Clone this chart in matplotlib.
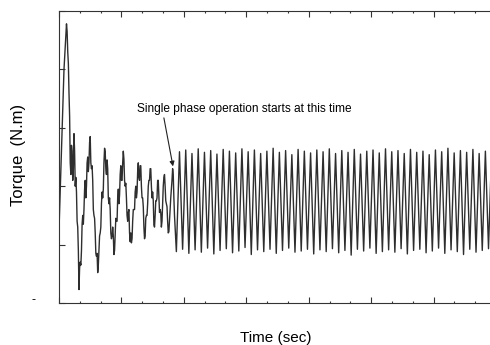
import numpy as np
import matplotlib
matplotlib.use("Agg")
import matplotlib.pyplot as plt
from matplotlib.ticker import MultipleLocator, NullFormatter

# start-up transient (three phase), sampled every 1 ms
t_step = 0.001
torque_start = [
    2.5, 6, 9, 13, 17, 20.5, 24, 27, 30, 32,
    34, 36, 37.8, 36.5, 33, 31, 26, 22, 14, 12,
    17, 16, 11, 13, 19, 16, 10, 11.5, 9, 4,
    3, -1, -7.7, -4, -3, -3.5, -1, 3.5, 5, 3.5,
    6, 9.5, 11, 8, 10, 14, 15, 12.5, 14, 17.5,
    18.5, 14, 13, 13.5, 11, 6, 5, 4.5, 2, -1.5,
    -2, -1.5, -4.8, -3.5, -1, 1.5, 2, 3, 7, 9,
    8, 9.5, 14, 16.5, 15.9, 13, 12, 14.5, 13, 8,
    7, 8, 6, 2, 1, 1.5, 3, 1.5, -1.7, -1,
    2, 4.5, 4, 4, 8, 9.5, 7, 8.5, 12, 13.5,
    11, 11, 14, 16, 14.6, 11, 10, 10.5, 8, 5,
    4, 5.5, 6, 2, 0.5, 2, 0.3, 1, 4, 6,
    6, 6, 9, 10, 8, 9, 12.5, 14, 11.5, 11,
    13.5, 13.5, 10, 8, 8, 6.5, 3, 1, 1.5, 4.5,
    5, 5, 7, 10, 11, 11, 13, 13, 10, 8,
    9, 7.5, 3.4, 3, 5, 7.5, 7.5, 8, 11, 11,
    8, 5.5, 6, 5.5, 3, 4, 7, 10, 11.5, 12,
    10, 7.5, 7, 6.5, 4, 2, 2.2, 4, 6, 8,
    9.5, 11, 13, 12, 8, 5, 3,
]

# single phase operation: 100 Hz pulsation, one trough and one peak per cycle
t_single = 0.188
half_period = 0.005
troughs = [
    -1.2, -0.8, -1.5, -0.9, -1.3, -0.6, -1.6, -1.0, -0.7, -1.4,
    -1.1, -0.5, -1.7, -0.9, -1.2, -0.8, -1.5, -1.0, -0.6, -1.3,
    -1.1, -0.8, -1.6, -0.9, -1.2, -0.7, -1.4, -1.0, -1.8, -0.8,
    -1.1, -0.6, -1.5, -1.2, -0.9, -1.3, -0.7, -1.6, -1.0, -0.8,
    -1.4, -1.1, -0.6, -1.5, -0.9, -1.2, -1.7, -0.8, -1.3, -1.0,
    -0.7, -1.4, -1.1,
]
peaks = [
    15.9, 16.2, 15.6, 16.4, 15.8, 16.1, 15.5, 16.3, 16.0, 15.7,
    16.4, 15.9, 16.2, 15.6, 16.0, 16.5, 15.8, 16.1, 15.4, 16.3,
    16.0, 15.7, 16.2, 15.9, 16.4, 15.6, 16.1, 15.8, 16.3, 15.5,
    16.0, 16.2, 15.7, 16.4, 15.9, 16.1, 15.6, 16.3, 15.8, 16.0,
    15.4, 16.2, 15.9, 16.5, 15.7, 16.1, 15.8, 16.3, 15.6, 16.0,
    16.2, 15.9, 15.7,
]

t1 = np.arange(len(torque_start)) * t_step
pulse = np.ravel(np.column_stack([troughs, peaks]))
t2 = t_single + np.arange(len(pulse)) * half_period
t = np.concatenate([t1, t2])
torque = np.concatenate([torque_start, pulse])

fig = plt.figure(figsize=(4.9, 3.45), dpi=100)
ax = fig.add_axes([59 / 490, 42 / 345, 437 / 490, 292 / 345])
ax.plot(t, torque, color="#2e2e2e", linewidth=1.0)

ax.set_xlim(0, 0.7)
ax.set_ylim(-10, 40)
ax.xaxis.set_major_locator(MultipleLocator(0.1))
ax.xaxis.set_minor_locator(MultipleLocator(0.1 / 3))
ax.yaxis.set_major_locator(MultipleLocator(10))
ax.xaxis.set_major_formatter(NullFormatter())
ax.yaxis.set_major_formatter(NullFormatter())
ax.tick_params(which="both", direction="in", top=True, right=True,
               color="#333333", width=0.8)
ax.tick_params(which="major", length=4)
ax.tick_params(which="minor", length=1.5)
for s in ax.spines.values():
    s.set_linewidth(0.8)
    s.set_color("#333333")

ax.text(0.125, 23.3, "Single phase operation starts at this time",
        fontsize=8.6, family="Liberation Sans", va="center", ha="left")
ax.annotate("", xy=(0.1826, 13.4), xytext=(0.168, 21.7),
            arrowprops=dict(arrowstyle="-|>", color="#222222", lw=0.8,
                            mutation_scale=7, shrinkA=0, shrinkB=0))

fig.text(19 / 490, 1 - 155 / 345, "Torque  (N.m)", rotation=90,
         fontsize=12, family="Liberation Sans", ha="center", va="center")
fig.text(276 / 490, 1 - 338 / 345, "Time (sec)", fontsize=11,
         family="Liberation Sans", ha="center", va="center")
fig.text(33 / 490, 1 - 300 / 345, "-", fontsize=9,
         family="Liberation Sans", ha="center", va="center")

fig.savefig("out.png", dpi=100)
